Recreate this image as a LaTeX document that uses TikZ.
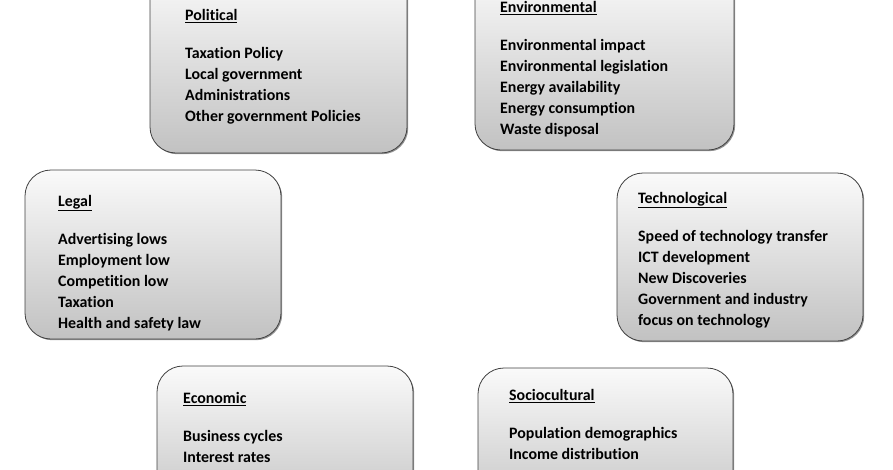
\documentclass[tikz,border=0pt]{standalone}
\usepackage{fontspec}
\setmainfont{Carlito}[Ligatures={NoCommon}]
\usetikzlibrary{shadows}
\tikzset{
  factorbox/.style={draw=black!75, line width=0.8pt, rounded corners=26pt,
    top color=black!2, bottom color=black!24,
    drop shadow={shadow xshift=1.2pt, shadow yshift=-1.2pt, opacity=0.6, fill=black!70}},
  factortext/.style={anchor=north west, inner sep=0pt, align=left,
    font=\fontsize{15.9}{21}\selectfont\bfseries}
}
\begin{document}
\begin{tikzpicture}[x=1pt,y=-1pt]
\useasboundingbox (0,0) rectangle (893,469);
\begin{scope}
\clip (0,0) rectangle (893,469);
\path[factorbox] (150,-30) rectangle (407,153);
\path[factorbox] (475,-30) rectangle (734,150);
\path[factorbox] (25,170) rectangle (281,339);
\path[factorbox] (617,173) rectangle (863,341);
\path[factorbox] (157,366) rectangle (413,520);
\path[factorbox] (478,368) rectangle (733,520);
\end{scope}
\node[factortext] (pol) at (185,9) {\underline{Political}\\[17pt]Taxation Policy\\Local government\\Administrations\\Other government Policies};
\node[factortext] (env) at (500,1) {\underline{Environmental}\\[17pt]Environmental impact\\Environmental legislation\\Energy availability\\Energy consumption\\Waste disposal};
\node[factortext] (leg) at (58,195) {\underline{Legal}\\[17pt]Advertising lows\\Employment low\\Competition low\\Taxation\\Health and safety law};
\node[factortext] (tec) at (638,192) {\underline{Technological}\\[17pt]Speed of technology transfer\\ICT development\\New Discoveries\\Government and industry\\focus on technology};
\node[factortext] (eco) at (183,392) {\underline{Economic}\\[17pt]Business cycles\\Interest rates};
\node[factortext] (soc) at (509,389) {\underline{Sociocultural}\\[17pt]Population demographics\\Income distribution};
\end{tikzpicture}
\end{document}
